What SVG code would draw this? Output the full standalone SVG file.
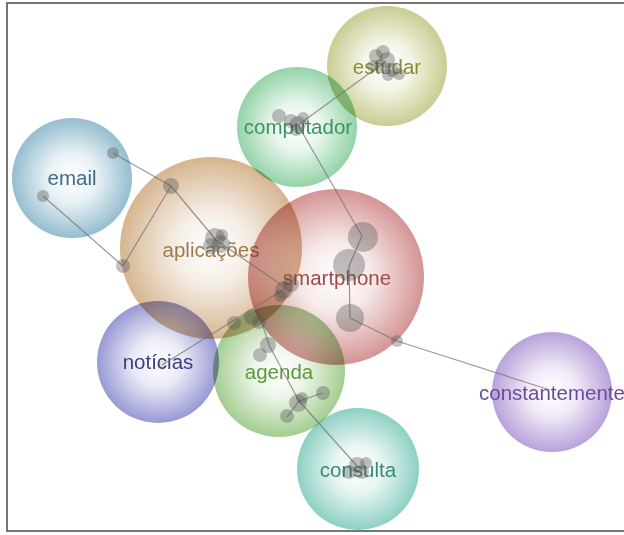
<svg xmlns="http://www.w3.org/2000/svg" width="624" height="535" viewBox="0 0 624 535">
  <defs>
    <radialGradient id="g-olive"><stop offset="0" stop-color="#ffffff"/><stop offset="0.4" stop-color="#f4f5e6"/><stop offset="1" stop-color="#c9cc92"/></radialGradient>
    <radialGradient id="g-mint"><stop offset="0" stop-color="#ffffff"/><stop offset="0.4" stop-color="#e9f6ed"/><stop offset="1" stop-color="#93d3a8"/></radialGradient>
    <radialGradient id="g-blue"><stop offset="0" stop-color="#ffffff"/><stop offset="0.4" stop-color="#eaf2f5"/><stop offset="1" stop-color="#95bdd0"/></radialGradient>
    <radialGradient id="g-tan"><stop offset="0" stop-color="#ffffff"/><stop offset="0.4" stop-color="#f5eee6"/><stop offset="1" stop-color="#d6b590"/></radialGradient>
    <radialGradient id="g-red"><stop offset="0" stop-color="#ffffff"/><stop offset="0.4" stop-color="#f7e9e9"/><stop offset="1" stop-color="#d59494"/></radialGradient>
    <radialGradient id="g-indigo"><stop offset="0" stop-color="#ffffff"/><stop offset="0.4" stop-color="#ebebf7"/><stop offset="1" stop-color="#9799d4"/></radialGradient>
    <radialGradient id="g-green"><stop offset="0" stop-color="#ffffff"/><stop offset="0.4" stop-color="#edf5e9"/><stop offset="1" stop-color="#a3cd90"/></radialGradient>
    <radialGradient id="g-teal"><stop offset="0" stop-color="#ffffff"/><stop offset="0.4" stop-color="#e7f5f2"/><stop offset="1" stop-color="#8dd0c2"/></radialGradient>
    <radialGradient id="g-purple"><stop offset="0" stop-color="#ffffff"/><stop offset="0.4" stop-color="#f1ebf8"/><stop offset="1" stop-color="#b8a1da"/></radialGradient>
  </defs>
  <style>
    .bubble { mix-blend-mode: multiply; }
    .label { font-family: "Liberation Sans", Arial, sans-serif; font-size: 20.5px; text-anchor: middle; }
    .link { fill: none; stroke: #6f6f6f; stroke-width: 1.2; stroke-opacity: 0.7; stroke-linejoin: round; }
    .dot { fill: #505050; fill-opacity: 0.36; }
  </style>

  <!-- frame -->
  <rect x="7" y="3" width="640" height="528" fill="#ffffff" stroke="#4a4a4a" stroke-width="1.5"/>

  <!-- topic bubbles with their labels -->
  <g id="node-estudar">
    <circle class="bubble" cx="387" cy="66" r="60" fill="url(#g-olive)"/>
    <text class="label" x="387" y="74" fill="#8a8c3a">estudar</text>
  </g>
  <g id="node-computador">
    <circle class="bubble" cx="297" cy="127" r="60" fill="url(#g-mint)"/>
    <text class="label" x="298" y="134" fill="#3a9660">computador</text>
  </g>
  <g id="node-email">
    <circle class="bubble" cx="72" cy="178" r="60" fill="url(#g-blue)"/>
    <text class="label" x="72" y="185" fill="#3c6c88">email</text>
  </g>
  <g id="node-aplicacoes">
    <circle class="bubble" cx="211" cy="248" r="91" fill="url(#g-tan)"/>
    <text class="label" x="211" y="257" fill="#a07a4e">aplicações</text>
  </g>
  <g id="node-smartphone">
    <circle class="bubble" cx="336" cy="277" r="88" fill="url(#g-red)"/>
    <text class="label" x="337" y="285" fill="#9e4a4a">smartphone</text>
  </g>
  <g id="node-noticias">
    <circle class="bubble" cx="158" cy="362" r="61" fill="url(#g-indigo)"/>
    <text class="label" x="158" y="369" fill="#3c4080">notícias</text>
  </g>
  <g id="node-agenda">
    <circle class="bubble" cx="279" cy="371" r="66" fill="url(#g-green)"/>
    <text class="label" x="279" y="379" fill="#5a983a">agenda</text>
  </g>
  <g id="node-consulta">
    <circle class="bubble" cx="358" cy="469" r="61" fill="url(#g-teal)"/>
    <text class="label" x="358" y="477" fill="#3a887a">consulta</text>
  </g>
  <g id="node-constantemente">
    <circle class="bubble" cx="552" cy="392" r="60" fill="url(#g-purple)"/>
    <text class="label" x="552" y="400" fill="#6a4c9a">constantemente</text>
  </g>

  <!-- links between word points -->
  <g id="connectors">
    <polyline class="link" points="113,153 171,186"/>
    <polyline class="link" points="43,196 123,266 171,186"/>
    <polyline class="link" points="171,186 216,240 286,288"/>
    <polyline class="link" points="286,288 162,365"/>
    <polyline class="link" points="258,312 270,347 299,401 357,466"/>
    <polyline class="link" points="287,417 299,401 323,393"/>
    <polyline class="link" points="298,125 385,62"/>
    <polyline class="link" points="298,125 362,236 349,266 350,318 397,341 550,390"/>
  </g>

  <!-- word points -->
  <g id="points">
    <circle class="dot" cx="376" cy="56" r="7"/>
    <circle class="dot" cx="383" cy="52" r="7"/>
    <circle class="dot" cx="387" cy="60" r="8"/>
    <circle class="dot" cx="381" cy="66" r="7"/>
    <circle class="dot" cx="392" cy="70" r="7"/>
    <circle class="dot" cx="399" cy="74" r="6"/>
    <circle class="dot" cx="388" cy="75" r="6"/>
    <circle class="dot" cx="373" cy="66" r="6"/>

    <circle class="dot" cx="279" cy="116" r="7"/>
    <circle class="dot" cx="291" cy="121" r="7"/>
    <circle class="dot" cx="298" cy="124" r="8"/>
    <circle class="dot" cx="303" cy="118" r="6"/>
    <circle class="dot" cx="296" cy="130" r="6"/>

    <circle class="dot" cx="113" cy="153" r="6"/>
    <circle class="dot" cx="43" cy="196" r="6"/>
    <circle class="dot" cx="171" cy="186" r="8"/>
    <circle class="dot" cx="123" cy="266" r="7"/>

    <circle class="dot" cx="215" cy="238" r="10"/>
    <circle class="dot" cx="221" cy="244" r="9"/>
    <circle class="dot" cx="211" cy="246" r="8"/>
    <circle class="dot" cx="222" cy="235" r="6"/>

    <circle class="dot" cx="284" cy="290" r="9"/>
    <circle class="dot" cx="291" cy="284" r="8"/>
    <circle class="dot" cx="280" cy="296" r="6"/>

    <circle class="dot" cx="363" cy="237" r="15"/>
    <circle class="dot" cx="349" cy="265" r="16"/>
    <circle class="dot" cx="350" cy="318" r="14"/>
    <circle class="dot" cx="397" cy="341" r="6"/>

    <circle class="dot" cx="234" cy="323" r="7"/>
    <circle class="dot" cx="252" cy="317" r="8"/>
    <circle class="dot" cx="259" cy="322" r="7"/>
    <circle class="dot" cx="268" cy="345" r="8"/>
    <circle class="dot" cx="260" cy="355" r="7"/>
    <circle class="dot" cx="298" cy="403" r="9"/>
    <circle class="dot" cx="302" cy="398" r="6"/>
    <circle class="dot" cx="323" cy="393" r="7"/>
    <circle class="dot" cx="287" cy="416" r="7"/>
    <circle class="dot" cx="162" cy="365" r="5" style="fill-opacity:0.15"/>

    <circle class="dot" cx="357" cy="465" r="8"/>
    <circle class="dot" cx="349" cy="472" r="7"/>
    <circle class="dot" cx="366" cy="463" r="6"/>
    <circle class="dot" cx="362" cy="472" r="7"/>
  </g>
</svg>
